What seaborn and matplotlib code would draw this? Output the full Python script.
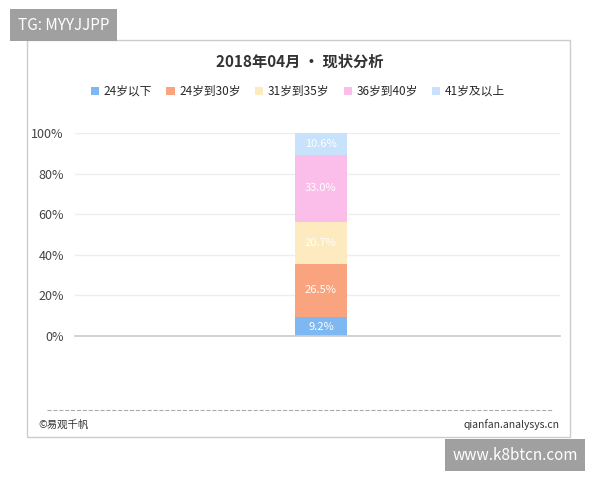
import matplotlib
matplotlib.use("Agg")
import matplotlib.pyplot as plt
import seaborn as sns
import pandas as pd
from matplotlib.patches import Rectangle

sns.set_theme(style="white")
plt.rcParams['font.family'] = ['Noto Sans CJK SC', 'DejaVu Sans']

categories = ["24岁以下", "24岁到30岁", "31岁到35岁", "36岁到40岁", "41岁及以上"]
values = [9.2, 26.5, 20.7, 33.0, 10.6]
colors = ["#7db8f3", "#f9a47e", "#fdebbf", "#fbbde9", "#c8e2fb"]
yticks = [0, 20, 40, 60, 80, 100]

fig = plt.figure(figsize=(6, 4.8), dpi=100)
fig.patches.append(Rectangle((27/600, 1-437/480), 543/600, 397/480, transform=fig.transFigure,
                             fill=False, edgecolor="#cccccc", lw=1))
ax = fig.add_axes([75/600, 1-336/480, 485/600, 203/480])
bottom = 0
for c, v, col in zip(categories, values, colors):
    df = pd.DataFrame({"x": [""], "y": [v]})
    sns.barplot(data=df, x="x", y="y", color=col, width=0.107, bottom=bottom, ax=ax,
                saturation=1, label=c, linewidth=0)
    ax.text(0, bottom + v/2, f"{v:.1f}%", ha="center", va="center", color="white", fontsize=8)
    bottom += v
ax.set_xlim(-0.507, 0.493)
ax.set_ylim(0, 100)
ax.set_yticks(yticks)
ax.set_yticklabels([f"{t}%" for t in yticks], fontsize=9, color="#444444")
ax.set_xticks([])
ax.set_xlabel("")
ax.set_ylabel("")
for s in ["top", "right", "left"]:
    ax.spines[s].set_visible(False)
ax.spines["bottom"].set_color("#cccccc")
ax.grid(axis="y", color="#eeeeee")
ax.tick_params(axis="y", length=0, pad=8)
ax.legend(loc="lower center", bbox_to_anchor=(0.46, 1.12), ncol=5, frameon=False, fontsize=8.5,
          handlelength=0.7, handleheight=0.7, columnspacing=1.2, handletextpad=0.4)
fig.text(0.5, 1-62/480, "2018年04月 • 现状分析", ha="center", va="center", fontsize=11, fontweight="bold", color="#333333")
fig.lines.append(plt.Line2D([47/600, 553/600], [1-410/480]*2, transform=fig.transFigure, color="#aaaaaa", ls="--", lw=0.8))
fig.text(38/600, 1-425/480, "©易观千帆", fontsize=7.5, va="center", color="#333333")
fig.text(560/600, 1-425/480, "qianfan.analysys.cn", fontsize=7.5, va="center", ha="right", color="#333333")
fig.text(18/600, 1-25/480, "TG: MYYJJPP", fontsize=11, va="center", color="white",
         bbox=dict(boxstyle="square,pad=0.5", fc="#a0a0a0", ec="none"))
fig.text(515/600, 1-455/480, "www.k8btcn.com", fontsize=11, va="center", ha="center", color="white",
         bbox=dict(boxstyle="square,pad=0.5", fc="#a0a0a0", ec="none"))
fig.savefig("out.png", dpi=100)
